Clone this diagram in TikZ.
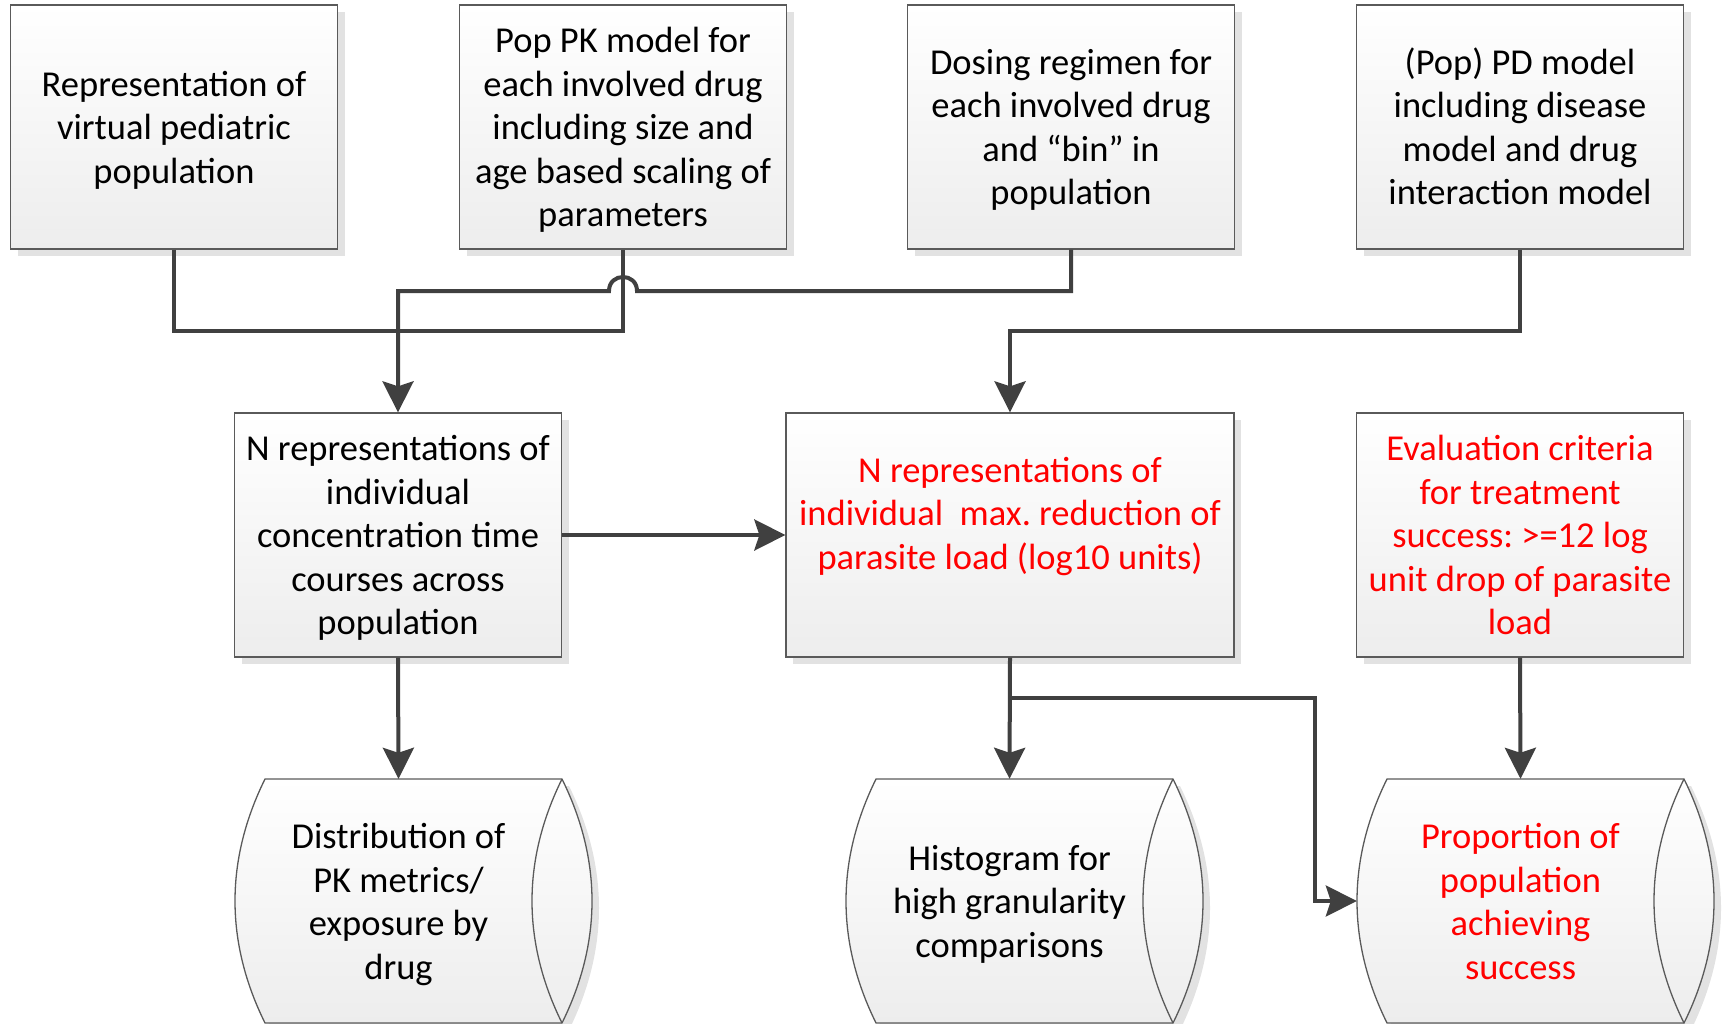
\documentclass[tikz,border=0pt]{standalone}
\usepackage{fontspec}
\setmainfont{Carlito}
\usetikzlibrary{arrows.meta,shadows,calc}
\definecolor{conn}{HTML}{404040}
\definecolor{bord}{HTML}{5A5A5A}
\definecolor{shd}{HTML}{E2E2E2}
\definecolor{bot}{HTML}{EDEDED}
\newcommand\sA{\rule{0pt}{34.5pt}}
\newcommand\sZ{\rule[-9pt]{0pt}{0pt}}
\frenchspacing
\tikzset{
  box/.style={draw=bord, line width=1.3pt, top color=white, bottom color=bot,
    minimum width=327pt, minimum height=244pt, inner sep=0pt, align=center,
    font=\fontsize{36.5}{43.5}\selectfont\frenchspacing,
    drop shadow={shadow xshift=7pt, shadow yshift=-7pt, fill=shd, opacity=1}},
  txt/.style={inner sep=0pt, align=center, font=\fontsize{36.5}{43.5}\selectfont\frenchspacing},
  cylarea/.style={minimum width=327pt, minimum height=244pt, inner sep=0pt, align=center,
    font=\fontsize{36.5}{43.5}\selectfont\frenchspacing},
  line/.style={draw=conn, line width=4pt},
  arr/.style={line, -{Stealth[length=31pt, width=31pt, inset=5pt]}},
  cylb/.style={draw=bord, line width=1.3pt},
}
\newcommand\cylshape[1]{%
  \pgfmathsetmacro\xa{#1}\pgfmathsetmacro\xb{#1+327}%
  \fill[shd] (\xa+37,786) -- (\xb+7,786) .. controls (\xb+47,867) and (\xb+47,949) .. (\xb+7,1030)
     -- (\xa+37,1030) .. controls (\xa-3,949) and (\xa-3,867) .. (\xa+37,786) -- cycle;
  \shade[top color=white, bottom color=bot] (\xa+30,779) -- (\xb,779) .. controls (\xb+40,860) and (\xb+40,942) .. (\xb,1023)
     -- (\xa+30,1023) .. controls (\xa-10,942) and (\xa-10,860) .. (\xa+30,779) -- cycle;
  \draw[cylb] (\xa+30,779) -- (\xb,779) .. controls (\xb+40,860) and (\xb+40,942) .. (\xb,1023)
     -- (\xa+30,1023) .. controls (\xa-10,942) and (\xa-10,860) .. (\xa+30,779) -- cycle;
  \draw[cylb] (\xb,779) .. controls (\xb-40,860) and (\xb-40,942) .. (\xb,1023);
}
\begin{document}
\begin{tikzpicture}[x=1pt,y=-1pt]
\useasboundingbox (0,0) rectangle (1723,1024);
% top row
\node[box] (b1) at (174,127) {\sA Representation of\\virtual pediatric\\population\sZ};
\node[box] (b2) at (623,127) {\sA Pop PK model for\\each involved drug\\including size and\\age based scaling of\\parameters\sZ};
\node[box] (b3) at (1071,127) {\sA Dosing regimen for\\each involved drug\\and “bin” in\\population\sZ};
\node[box] (b4) at (1520,127) {\sA (Pop) PD model\\including disease\\model and drug\\interaction model\sZ};
% middle row
\node[box] (b5) at (398,535) {\sA N representations of\\individual\\concentration time\\courses across\\population\sZ};
\node[box, minimum width=448pt] (b6) at (1010,535) {};
\node[txt, text=red] (b6t) at (1010,513) {\sA N representations of\\individual\ \ max. reduction of\\parasite load (log10 units)\sZ};
\node[box, text=red] (b7) at (1520,535) {\sA Evaluation criteria\\for treatment\\success: >=12 log\\unit drop of parasite\\load\sZ};
% bottom row cylinders
\cylshape{235}
\cylshape{846}
\cylshape{1357}
\node[cylarea] (c1) at (398.5,901) {\sA Distribution of\\PK metrics/\\exposure by\\drug\sZ};
\node[cylarea] (c2) at (1009.5,901) {\sA Histogram for\\high granularity\\comparisons\sZ};
\node[cylarea, text=red] (c3) at (1520.5,901) {\sA Proportion of\\population\\achieving\\success\sZ};
% connectors
\coordinate (m1) at (623,331);
\coordinate (hr) at (637,291);
\coordinate (hl) at (609,291);
\coordinate (m2) at (1010,331);
\coordinate (m3) at (1315,698);
\draw[line] (b1.south) |- (m1) -- (b2.south);
\draw[arr] (b3.south) |- (hr) .. controls ($(hr)+(0,-18.7)$) and ($(hl)+(0,-18.7)$) .. (hl) -| (b5.north);
\draw[arr] (b4.south) |- (m2) -- (b6.north);
\draw[arr] (b5.east) -- (b6.west);
\draw[arr] (b5.south) -- (c1.north);
\draw[arr] (b6.south) -- (c2.north);
\draw[arr] (b6.south) |- (m3) |- (c3.west);
\draw[arr] (b7.south) -- (c3.north);
\end{tikzpicture}
\end{document}
